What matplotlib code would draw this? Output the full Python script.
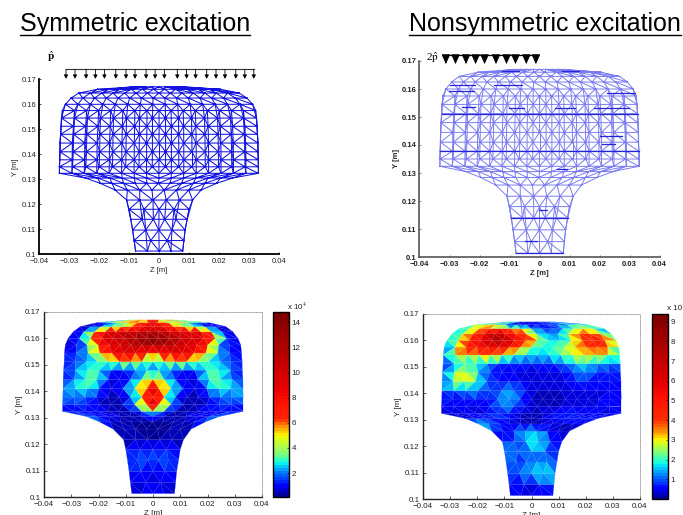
import numpy as np
import matplotlib
matplotlib.use("Agg")
import matplotlib.pyplot as plt
from matplotlib.collections import LineCollection
from matplotlib.colors import ListedColormap, Normalize
from matplotlib.lines import Line2D
from matplotlib.tri import Triangulation

plt.rcParams['font.family'] = ['Liberation Sans', 'DejaVu Sans']
plt.rcParams['mathtext.fontset'] = 'stix'

# ---- data: rail cross-section rows, bottom to top ----
row_y = [.1013, .1055, .1097, .1140, .1180, .1217, .1257, .1284, .1305, .1324, .1350, .1378,
         .1410, .1445, .1480, .1512, .1545, .1575, .1600, .1625, .1645, .1660, .1670]
row_left = [-.0078, -.0083, -.0088, -.0094, -.0100, -.0108, -.0146, -.0196, -.0245, -.0332, -.0332, -.0331,
            -.0330, -.0330, -.0328, -.0326, -.0325, -.0322, -.0312, -.0293, -.0267, -.0205, -.0085]
row_right = [.0079, .0083, .0087, .0094, .0100, .0112, .0140, .0192, .0245, .0331, .0331, .0331,
             .0330, .0330, .0328, .0327, .0325, .0322, .0312, .0293, .0267, .0205, .0085]

sym_rows = [
    [.7, .9, 1.1, .9, .7],
    [.5, .7, .7, .5],
    [1.0, 1.2, .6, 1.2, 1.0],
    [1.3, 1.9, 1.9, 1.8, 1.9, 1.3],
    [.8, 1.2, 1.3, 1.2, .8],
    [.4, .4, .3, .3, .4, .4],
    [.5, .4, .3, .2, .2, .3, .4, .5],
    [2.2, .7, .4, .3, .3, .2, .3, .3, .4, .7, 2.0],
    [2.0, 1.5, .8, .6, .5, .6, 2.2, .6, .5, .6, .8, 1.5, 2.0],
    [1, 1, 1.2, 1.0, .6, .5, .5, 1.0, 3, 1.0, .5, .5, .6, 1.0, 1.2, 1, 1],
    [1.2, 1.4, 1.3, .8, .4, .5, 3.0, 8.0, 8.0, 3.0, .5, .4, .8, 1.3, 1.4, 1.2],
    [2.2, 2.0, 1.8, 1.0, .4, .3, 1.0, 3.5, 9.5, 3.5, 1.0, .3, .4, 1.0, 1.8, 2.0, 2.2],
    [2.0, 2.6, 3.0, 2.0, .6, 1.5, 4.0, 8.0, 8.0, 4.0, 1.5, .6, 2.0, 3.0, 2.6, 2.0],
    [1.2, 2.0, 3.4, 3.2, 1.0, .6, 1.5, 3.0, 5.0, 3.0, 1.5, .6, 1.0, 3.2, 3.4, 2.0, 1.2],
    [1.0, 1.6, 3.2, 3.0, 1.2, .8, 1.5, 2.0, 2.0, 1.5, .8, 1.2, 3.0, 3.2, 1.6, 1.0],
    [1.2, 2.0, 2.4, 2.6, 3.2, 4.5, 4.8, 4.0, 2.8, 4.0, 4.8, 4.5, 3.2, 2.6, 2.4, 2.0, 1.2],
    [.8, 1.2, 2.4, 5.5, 8.0, 9.5, 8.5, 6.5, 6.5, 8.5, 9.5, 8.0, 5.5, 2.4, 1.2, .8],
    [.6, 1.0, 2.6, 6.5, 9.0, 9.5, 10.5, 11.5, 12.5, 11.5, 10.5, 9.5, 9.0, 6.5, 2.6, 1.0, .6],
    [.6, 1.5, 5.5, 9.0, 10.0, 11.0, 13.0, 14.5, 14.5, 13.0, 11.0, 10.0, 9.0, 5.5, 1.5, .6],
    [.8, 1.0, 5.0, 9.0, 9.5, 9.5, 10, 10.5, 10.5, 10, 9.5, 9.5, 9.0, 5.0, 1.0, .8],
    [.7, .5, 1.0, 2.8, 3.6, 5.5, 8, 9, 8, 5.5, 3.6, 2.8, 1.0, .5, .7],
    [1.0, 1.2, 3.5, 4.0, 6.0, 8.0, 8.0, 6.0, 4.0, 3.5, 1.2, 1.0],
    [4.5, 6.0, 8.0, 1.8, 9.5, 1.8, 8.0, 6.0, 4.5],
]

nonsym_rows = [
    [.7, .4, .3, .6, .5],
    [.6, .5, .5, .8],
    [1.0, 1.0, 1.6, 2.3, 1.2],
    [.8, .9, 1.1, .9, 1.2, 1.0],
    [1.8, .5, 1.5, 1.0, .4],
    [.6, .8, 1.5, 2.2, 1.0, .4],
    [.5, .4, .8, 1.6, 1.4, .4, .2, .3],
    [2.0, 1.5, .4, .3, .3, .2, .2, .2, .3, .3, .4],
    [.4, .4, .8, 1.0, .6, .3, .2, .3, .6, .7, .8, .8, .7],
    [.3, .4, .5, .4, .5, .8, .6, .3, .2, .3, .6, .7, .6, .5, .4, .4, .5],
    [.6, .4, .5, .4, .6, 1.2, 1.3, .5, .3, .3, .3, .5, .4, .5, .5, .6],
    [.7, .6, .6, .5, .5, 1.1, 1.4, .8, .3, .2, .2, .3, .3, .4, .4, .5, .6],
    [.8, 1, 1.2, 1.4, .7, 1.2, 1.5, .6, .3, .3, .3, .4, .4, .4, .5, .5],
    [.6, 2.8, 3.0, 2.2, 1.0, .6, .6, .5, .4, .4, .4, .4, .8, .7, .5, .5, .5],
    [.5, 2.4, 3.4, 1.6, .7, .5, .3, .3, .3, .4, .5, .8, 1.3, .8, .8, .7],
    [.9, 1.5, 1.6, 1.5, 1.4, .8, .9, .8, .7, .8, .8, 1.0, 1.6, 1.7, 1.3, 1.1, .9],
    [.8, 3.2, 3.0, 3.2, 3.8, 3.0, 2.2, 1.8, 1.6, 1.8, 2.3, 2.8, 3.4, 2.8, 3.0, 1.6],
    [1.0, 2.5, 4.5, 5, 5.5, 5, 4.5, 3.6, 2.2, 1.6, 2.0, 2.6, 3.0, 3.6, 4.5, 3.4, 1.6],
    [1.6, 2.2, 4.8, 6.0, 7.8, 7.8, 6, 4.5, 3.0, 1.8, 1.6, 2.4, 4.0, 4.8, 4.5, 2.6],
    [2.0, 2.4, 3.8, 5.0, 7.0, 6, 4.5, 4.0, 2.0, 1.2, 1.2, 2.6, 3.8, 4.0, 3.2, 1.6],
    [1.0, 2.6, 2.8, 3.8, 3.8, 3.0, 3.2, 1.2, .8, .7, 1.4, 2.2, 3.0, 2.0, 1.2],
    [2.8, 3.0, 3.8, .5, .3, .3, .7, .4, 1.0, 1.2, 2.8, 2.2],
    [.4, .4, .3, .3, .5, .5, .3, .4, .4],
]

load_sym_z = [-.031, -.028, -.0243, -.0212, -.0182, -.0144, -.011, -.008, -.0043, -.0013,
              .0018, .0061, .0092, .0122, .0159, .019, .022, .0256, .0286, .0316]
load_non_z = [-.0312, -.028, -.0245, -.0213, -.0183, -.0145, -.011, -.008, -.0044, -.0012]

# darker horizontal mesh pieces seen in the nonsymmetric wireframe
dark_z0 = [-.03, -.0303, -.0153, -.0103, -.0259, .0052, .018, .0224, -.0126, .0074, .0202, .0208, .0058, -.0003, -.0048]
dark_z1 = [-.0214, -.022, -.0059, -.0053, -.0214, .0119, .0297, .0319, -.007, .013, .0274, .0252, .0091, .0024, -.0009]
dark_y = [.1613, .1592, .1613, .1532, .1536, .1532, .1532, .1587, .1664, .1664, .1431, .1405, .1315, .1169, .1056]

z_ticks = [-.04, -.03, -.02, -.01, 0, .01, .02, .03, .04]
z_labels = ['\u22120.04', '\u22120.03', '\u22120.02', '\u22120.01', '0', '0.01', '0.02', '0.03', '0.04']
y_ticks = [.1, .11, .12, .13, .14, .15, .16, .17]
y_labels = ['0.1', '0.11', '0.12', '0.13', '0.14', '0.15', '0.16', '0.17']
cb_sym_ticks = [2, 4, 6, 8, 10, 12, 14]
cb_non_ticks = [1, 2, 3, 4, 5, 6, 7, 8, 9]

W, H = 683, 515
fig = plt.figure(figsize=(W / 100, H / 100), dpi=100)


def ax_px(x0, y0, x1, y1):
    return fig.add_axes([x0 / W, 1 - y1 / H, (x1 - x0) / W, (y1 - y0) / H])


def mesh():
    xs, ys, tris, starts = [], [], [], []
    for y, l, r, v in zip(row_y, row_left, row_right, sym_rows):
        starts.append(len(xs))
        xs.extend(np.linspace(l, r, len(v)))
        ys.extend([y] * len(v))
    for k in range(len(row_y) - 1):
        a, b = starts[k], starts[k + 1]
        na, nb = len(sym_rows[k]), len(sym_rows[k + 1])
        i, j = 0, 0
        while i < na - 1 or j < nb - 1:
            adv_a = j == nb - 1 or (i < na - 1 and (i + 1) / (na - 1) <= (j + 1) / (nb - 1))
            if adv_a:
                tris.append([a + i, a + i + 1, b + j])
                i += 1
            else:
                tris.append([a + i, b + j + 1, b + j])
                j += 1
    # vertical links between rows two apart give the star pattern of the wireframes
    segs = []
    for k in range(len(row_y) - 2):
        n0, n2 = len(sym_rows[k]), len(sym_rows[k + 2])
        if n0 == n2:
            for i in range(n0):
                segs.append([(xs[starts[k] + i], ys[starts[k] + i]),
                             (xs[starts[k + 2] + i], ys[starts[k + 2] + i])])
    return Triangulation(np.array(xs), np.array(ys), np.array(tris)), segs


tri, verticals = mesh()

# jet squeezed into the lower part of the scale, as in the reference colourbars
frac = np.linspace(0, 1, 64)
jet = plt.get_cmap('jet')
cmap_sym = ListedColormap(jet(np.interp(frac, [0, .06, .13, .17, .23, .33, .38, .42, 1],
                                        [.02, .13, .25, .35, .5, .65, .75, .87, 1])))
cmap_non = ListedColormap(jet(np.interp(frac, [0, .05, .106, .213, .32, .36, .426, 1],
                                        [.02, .12, .22, .42, .66, .75, .86, 1])))
TXT = '#222222'


def style(ax, fs, bold=False, lw=1.0, tl=1.5, color='black', xpad=3.0, ypad=2.0):
    ax.set_xlim(-.04, .04)
    ax.set_ylim(.1, .17)
    ax.set_xticks(z_ticks, z_labels)
    ax.set_yticks(y_ticks, y_labels)
    w = 'bold' if bold else 'normal'
    for t in ax.get_xticklabels() + ax.get_yticklabels():
        t.set_fontsize(fs)
        t.set_fontweight(w)
        t.set_color(TXT)
    ax.tick_params(direction='in', length=tl, width=.5, color=color)
    ax.tick_params(axis='x', pad=xpad)
    ax.tick_params(axis='y', pad=ypad)
    for s in ('left', 'bottom'):
        ax.spines[s].set_linewidth(lw)
        ax.spines[s].set_color(color)


def labels(ax, fs, xpad, ypad, bold=False):
    w = 'bold' if bold else 'normal'
    ax.set_xlabel('Z [m]', fontsize=fs, labelpad=xpad, fontweight=w, color=TXT)
    ax.set_ylabel('Y [m]', fontsize=fs, labelpad=ypad, fontweight=w, color=TXT)


# ---- top-left: mesh, symmetric load ----
a1 = ax_px(39, 79.3, 279, 254.3)
style(a1, 5.5, lw=1.3)
labels(a1, 5.5, 1.2, 1.5)
a1.spines['top'].set_visible(False)
a1.spines['right'].set_visible(False)
a1.triplot(tri, color='#1414e0', lw=.75)
a1.add_collection(LineCollection(verticals, colors='#1414e0', linewidths=.75))
a1.plot([min(load_sym_z), max(load_sym_z)], [.174, .174], color='#333333', lw=.8, clip_on=False)
for z in load_sym_z:
    a1.annotate('', xy=(z, .1702), xytext=(z, .174), annotation_clip=False,
                arrowprops=dict(arrowstyle='-|>,head_width=.12,head_length=.22', color='black',
                                lw=.6, shrinkA=0, shrinkB=0))

# ---- top-right: mesh, one-sided load ----
a2 = ax_px(419.5, 61, 659.5, 257)
style(a2, 5.5, bold=True, lw=1.2, color='#555555')
labels(a2, 5.5, 1.0, 1.0, bold=True)
a2.spines['top'].set_visible(False)
a2.spines['right'].set_visible(False)
a2.triplot(tri, color='#7c7cf2', lw=.7)
a2.add_collection(LineCollection(verticals, colors='#7c7cf2', linewidths=.7))
for k in (0, 3, 11, 15):
    a2.plot([row_left[k], row_right[k]], [row_y[k], row_y[k]], color='#2525d8', lw=.9)
for z0, z1, y in zip(dark_z0, dark_z1, dark_y):
    a2.plot([z0, z1], [y, y], color='#2525d8', lw=.9)
a2.plot([min(load_non_z) - .0008, max(load_non_z) + .0008], [.172, .172], color='black', lw=.9, clip_on=False)
for z in load_non_z:
    a2.annotate('', xy=(z, .1689), xytext=(z, .172), annotation_clip=False,
                arrowprops=dict(arrowstyle='-|>,head_width=.27,head_length=.6', color='black',
                                lw=.6, shrinkA=0, shrinkB=0))


# ---- bottom: stress fields ----
def field(box, cbox, rows, cmap, vmin, vmax, cb_ticks, note, notepos):
    ax = ax_px(*box)
    style(ax, 5.8, lw=1.0, tl=2, color='#222222', xpad=3.0, ypad=2.5)
    labels(ax, 5.8, 1.0, 1.5)
    for s in ('top', 'right'):
        ax.spines[s].set_linewidth(.5)
        ax.spines[s].set_linestyle(':')
        ax.spines[s].set_color('#777777')
    ax.grid(True, ls=':', lw=.55, color='#444444')
    ax.set_axisbelow(True)
    vals = np.concatenate([np.asarray(r, float) for r in rows])
    pc = ax.tripcolor(tri, vals, shading='flat', cmap=cmap, norm=Normalize(vmin, vmax),
                      edgecolors='face', linewidth=.15)
    ax.triplot(tri, color='white', lw=.3, alpha=.14)
    cax = ax_px(*cbox)
    cb = fig.colorbar(pc, cax=cax, ticks=cb_ticks)
    cb.ax.tick_params(labelsize=5.8, length=1.5, width=.4, pad=2, direction='in', labelcolor=TXT)
    cb.outline.set_linewidth(1.0)
    fig.text(notepos[0] / W, 1 - notepos[1] / H, note, fontsize=5.8, ha='center', va='center', color=TXT)


field((44, 312, 262, 497), (273, 312, 289, 497), sym_rows, cmap_sym, .09, 14.82, cb_sym_ticks,
      'x 10$^{\\mathrm{4}}$', (297, 306))
field((423, 314, 640, 499), (652, 314, 668, 499), nonsym_rows, cmap_non, 0, 9.39, cb_non_ticks,
      'x 10', (675, 308.5))

# ---- titles and load labels ----
for txt, x0, x1 in (('Symmetric excitation', 20, 250), ('Nonsymmetric excitation', 409, 681)):
    fig.text(x0 / W, 1 - 31 / H, txt, fontsize=18, ha='left', va='baseline')
    fig.add_artist(Line2D([x0 / W, x1 / W], [1 - 35 / H, 1 - 35 / H], color='black', lw=1.0))
fig.text(51 / W, 1 - 57 / H, '$\\hat{\\mathbf{p}}$', fontsize=8, ha='center', va='center')
fig.text(432.5 / W, 1 - 58 / H, '2$\\hat{\\mathrm{p}}$', fontsize=8, ha='center', va='center', family='Liberation Serif')

fig.savefig('out.png', dpi=100)
